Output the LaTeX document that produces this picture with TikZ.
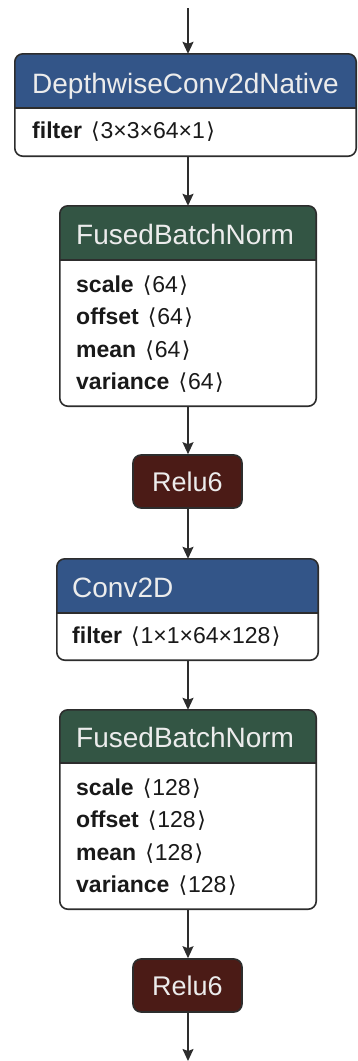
\documentclass[tikz,border=0pt]{standalone}
\usepackage{fontspec}
\setmainfont{Liberation Sans}
\newfontfamily\dvs{DejaVu Sans}
\usetikzlibrary{arrows.meta}
\definecolor{layerc}{RGB}{51,85,136}
\definecolor{normc}{RGB}{51,85,68}
\definecolor{actc}{RGB}{75,27,22}
\definecolor{edgec}{RGB}{45,45,45}
\definecolor{hdrtext}{RGB}{236,236,236}
\definecolor{bodytext}{RGB}{25,25,25}
\newcommand{\shp}[1]{{\bfseries #1}\hspace{9pt}{\dvs\fontsize{22}{22}\selectfont ⟨}\hspace{1pt}}
\newcommand{\shq}{\hspace{1.5pt}{\dvs\fontsize{22}{22}\selectfont ⟩}}
\begin{document}
\begin{tikzpicture}[x=1pt,y=-1pt,
  opframe/.style={fill=white, rounded corners=8pt, inner sep=0pt, draw=none},
  border/.style={draw=edgec, line width=1.6pt, rounded corners=8pt},
  sepline/.style={draw=edgec, line width=1.4pt},
  hdrtxt/.style={text=hdrtext, font=\fontsize{28}{28}\selectfont, inner sep=0pt, anchor=base west},
  attr/.style={text=bodytext, font=\fontsize{23}{23}\selectfont, inner sep=0pt, anchor=base west},
  relubox/.style={fill=actc, draw=edgec, line width=1.6pt, rounded corners=8pt, minimum width=109pt, minimum height=53pt, inner sep=0pt, text=hdrtext, font=\fontsize{27}{27}\selectfont},
  arr/.style={draw=edgec, line width=1.6pt, -{Stealth[length=12pt,width=11pt,inset=2pt]}}
]
\useasboundingbox (0,0) rectangle (357,1061);

% ---------- Box 1: DepthwiseConv2dNative ----------
\node[opframe, minimum width=341pt, minimum height=102pt] (b1) at (185.5,105) {};
\begin{scope}
  \clip[rounded corners=8pt] (b1.north west) rectangle (b1.south east);
  \fill[layerc] (b1.north west) rectangle (356,108);
\end{scope}
\draw[sepline] (15,108) -- (356,108);
\draw[border] (b1.north west) rectangle (b1.south east);
\node[hdrtxt] (t1) at (32,93) {DepthwiseConv2dNative};
\node[attr] (a1) at (32,138) {\shp{filter}3×3×64×1\shq};

% ---------- Box 2: FusedBatchNorm ----------
\node[opframe, minimum width=256pt, minimum height=200pt] (b2) at (188,306) {};
\begin{scope}
  \clip[rounded corners=8pt] (b2.north west) rectangle (b2.south east);
  \fill[normc] (b2.north west) rectangle (316,260);
\end{scope}
\draw[sepline] (60,260) -- (316,260);
\draw[border] (b2.north west) rectangle (b2.south east);
\node[hdrtxt] (t2) at (76,244) {FusedBatchNorm};
\node[attr] (a21) at (76,292) {\shp{scale}64\shq};
\node[attr] (a22) at (76,324.5) {\shp{offset}64\shq};
\node[attr] (a23) at (76,357) {\shp{mean}64\shq};
\node[attr] (a24) at (76,389.5) {\shp{variance}64\shq};

% ---------- Relu6 #1 ----------
\node[relubox] (r1) at (187.5,481.5) {Relu6};

% ---------- Box 3: Conv2D ----------
\node[opframe, minimum width=261pt, minimum height=101pt] (b3) at (187.5,609.5) {};
\begin{scope}
  \clip[rounded corners=8pt] (b3.north west) rectangle (b3.south east);
  \fill[layerc] (b3.north west) rectangle (318,613);
\end{scope}
\draw[sepline] (57,613) -- (318,613);
\draw[border] (b3.north west) rectangle (b3.south east);
\node[hdrtxt] (t3) at (72,597.5) {Conv2D};
\node[attr] (a3) at (72,643) {\shp{filter}1×1×64×128\shq};

% ---------- Box 4: FusedBatchNorm ----------
\node[opframe, minimum width=256pt, minimum height=199pt] (b4) at (188,809.5) {};
\begin{scope}
  \clip[rounded corners=8pt] (b4.north west) rectangle (b4.south east);
  \fill[normc] (b4.north west) rectangle (316,763);
\end{scope}
\draw[sepline] (60,763) -- (316,763);
\draw[border] (b4.north west) rectangle (b4.south east);
\node[hdrtxt] (t4) at (76,747) {FusedBatchNorm};
\node[attr] (a41) at (76,795) {\shp{scale}128\shq};
\node[attr] (a42) at (76,827.5) {\shp{offset}128\shq};
\node[attr] (a43) at (76,860) {\shp{mean}128\shq};
\node[attr] (a44) at (76,892.5) {\shp{variance}128\shq};

% ---------- Relu6 #2 ----------
\node[relubox] (r2) at (187.5,985.5) {Relu6};

% ---------- connectors ----------
\coordinate (top) at (188,8);
\coordinate (bot) at (188,1061);
\draw[arr] (top) -- (top |- b1.north);
\draw[arr] (b1.south -| top) -- (b2.north -| top);
\draw[arr] (b2.south -| top) -- (r1.north -| top);
\draw[arr] (r1.south -| top) -- (b3.north -| top);
\draw[arr] (b3.south -| top) -- (b4.north -| top);
\draw[arr] (b4.south -| top) -- (r2.north -| top);
\draw[arr] (r2.south -| top) -- (bot);
\end{tikzpicture}
\end{document}
